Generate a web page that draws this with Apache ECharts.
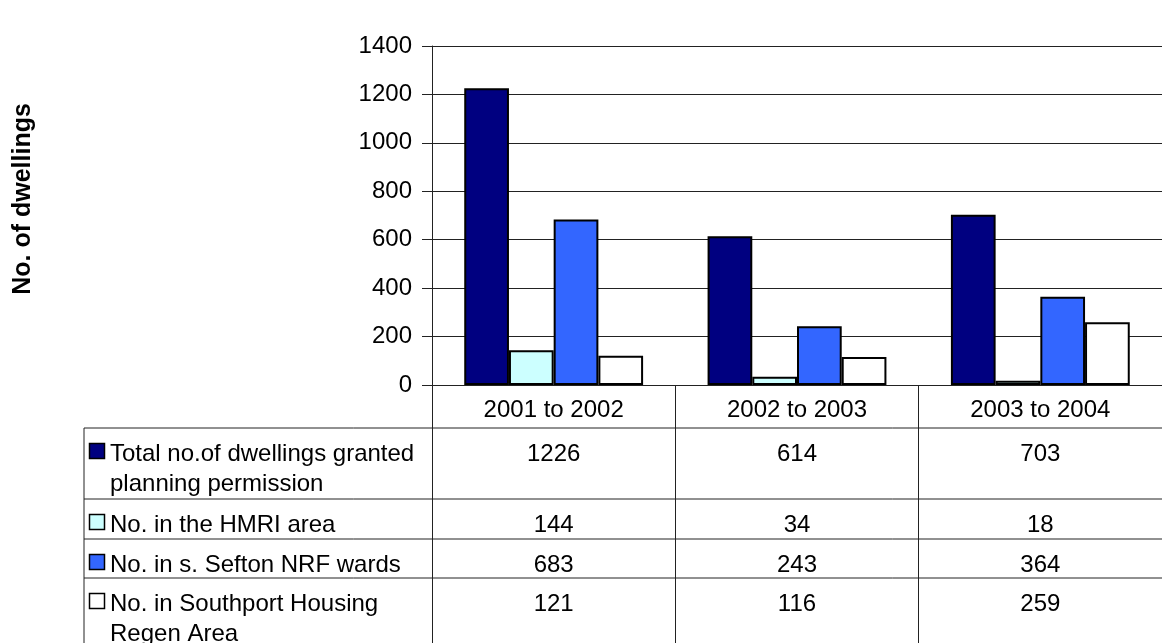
<!DOCTYPE html>
<html><head><meta charset="utf-8">
<script src="https://cdn.jsdelivr.net/npm/echarts@6/dist/echarts.min.js"></script>
<style>html,body{margin:0;padding:0;background:#fff;overflow:hidden}#c{width:1162px;height:643px}</style>
</head><body><div id="c"></div>
<script>
// ---- data ----
const categories = ['2001 to 2002', '2002 to 2003', '2003 to 2004'];
const seriesNames = [
  'Total no.of dwellings granted planning permission',
  'No. in the HMRI area',
  'No. in s. Sefton NRF wards',
  'No. in Southport Housing Regen Area'
];
const rowLabels = [
  'Total no.of dwellings granted\nplanning permission',
  'No. in the HMRI area',
  'No. in s. Sefton NRF wards',
  'No. in Southport Housing\nRegen Area'
];
const totalGranted = [1226, 614, 703];
const hmri = [144, 34, 18];
const seftonNrf = [683, 243, 364];
const southportRegen = [121, 116, 259];
const yMin = 0, yMax = 1400, yStep = 200;
const yAxisTitle = 'No. of dwellings';

// ---- style / layout ----
const FONT = '"Liberation Sans", Arial, sans-serif';
const FS = 24;
const colors = ['#000080', '#CCFFFF', '#3366FF', '#FFFFFF'];
const gridTop = 46, gridBottomY = 385, gridLeft = 432;
const rowTops = [428, 499, 539, 578];
const tableLeft = 84, H = 643, W = 1162;
const lineColor = '#222';

const seriesValues = [totalGranted, hmri, seftonNrf, southportRegen];

const chart = echarts.init(document.getElementById('c'), null, {renderer: 'canvas'});
chart.setOption({
  animation: false,
  backgroundColor: '#fff',
  textStyle: {fontFamily: FONT},
  grid: {left: gridLeft, right: 0, top: gridTop, bottom: H - gridBottomY, containLabel: false},
  xAxis: {
    type: 'category',
    data: categories,
    boundaryGap: true,
    axisLine: {show: true, lineStyle: {color: lineColor, width: 1}},
    axisTick: {show: true, length: H - gridBottomY, interval: 0, alignWithLabel: false, lineStyle: {color: lineColor, width: 1}},
    axisLabel: {show: true, color: '#000', fontSize: FS, fontFamily: FONT, margin: 13, interval: 0},
    splitLine: {show: false}
  },
  yAxis: {
    type: 'value',
    min: yMin, max: yMax, interval: yStep,
    axisLine: {show: true, lineStyle: {color: lineColor, width: 1}},
    axisTick: {show: true, length: 10, lineStyle: {color: lineColor}},
    axisLabel: {color: '#000', fontSize: FS, fontFamily: FONT, margin: 20, formatter: v => String(v)},
    splitLine: {show: true, lineStyle: {color: lineColor, width: 1}}
  },
  series: seriesValues.map((vals, i) => ({
    name: seriesNames[i],
    type: 'bar',
    data: vals,
    barGap: '0%',
    barCategoryGap: '26.5%',
    itemStyle: {color: colors[i], borderColor: '#000', borderWidth: 2},
    emphasis: {disabled: true}
  }))
});

// ---- data table drawn with the chart's own category positions ----
const g = [];
// y-axis title
g.push({type: 'text', x: 23, y: 199, rotation: Math.PI / 2,
  style: {text: yAxisTitle, font: 'bold 25px ' + FONT, fill: '#000', align: 'center', verticalAlign: 'middle'}});
// horizontal table lines
rowTops.forEach(y => g.push({type: 'line', shape: {x1: tableLeft, y1: y, x2: W, y2: y},
  style: {stroke: lineColor, lineWidth: 1}, subPixelOptimize: true}));
// left border
g.push({type: 'line', shape: {x1: tableLeft, y1: rowTops[0], x2: tableLeft, y2: H},
  style: {stroke: lineColor, lineWidth: 1}, subPixelOptimize: true});
// row legend keys and labels
rowLabels.forEach((lab, i) => {
  const top = rowTops[i];
  g.push({type: 'rect', shape: {x: 89.5, y: top + 15.5, width: 15, height: 15},
    style: {fill: colors[i], stroke: '#000', lineWidth: 1.5}});
  g.push({type: 'text', x: 110, y: top + 11,
    style: {text: lab, font: FS + 'px ' + FONT, fill: '#000', align: 'left', verticalAlign: 'top', lineHeight: 30}});
});
// value cells
const xs = categories.map((c) => chart.convertToPixel({xAxisIndex: 0}, c));
seriesValues.forEach((vals, i) => {
  vals.forEach((v, j) => {
    g.push({type: 'text', x: xs[j], y: rowTops[i] + 11,
      style: {text: String(v), font: FS + 'px ' + FONT, fill: '#000', align: 'center', verticalAlign: 'top', lineHeight: 30}});
  });
});
chart.setOption({graphic: {elements: g}});
</script>
</body></html>
